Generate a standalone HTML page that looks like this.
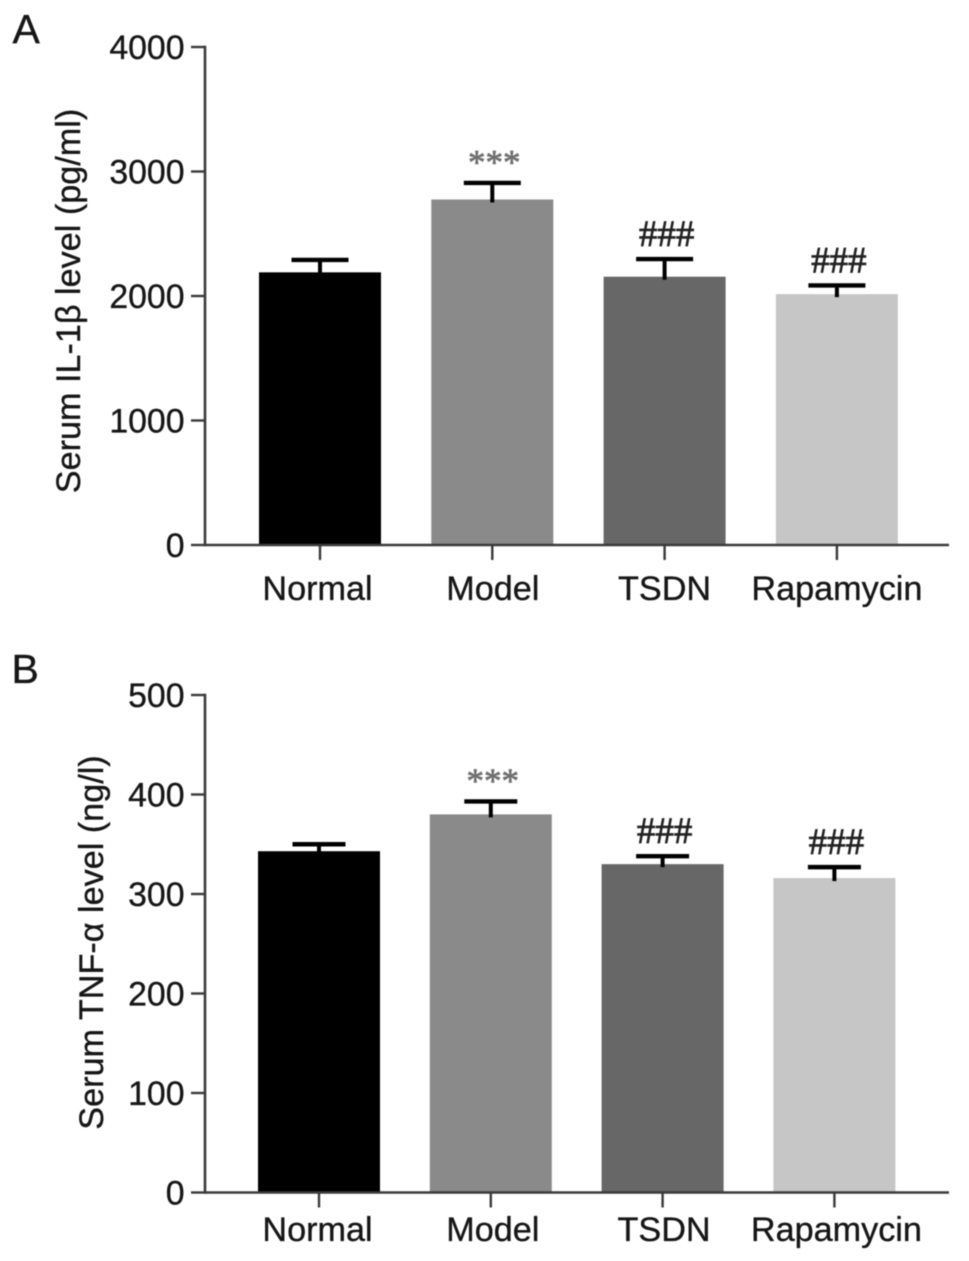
<!DOCTYPE html>
<html lang="en">
<head>
<meta charset="utf-8">
<title>Serum IL-1β and TNF-α levels</title>
<style>
html,body{margin:0;padding:0;background:#fff;width:969px;height:1261px;overflow:hidden}
svg{display:block;filter:blur(0.45px)}
text{font-family:"Liberation Sans",sans-serif;fill:#161616;stroke:#161616;stroke-width:0.35px}
</style>
</head>
<body>
<svg id="figure" xmlns="http://www.w3.org/2000/svg" width="969" height="1261" viewBox="0 0 969 1261"></svg>
<script>
const categories = ['Normal', 'Model', 'TSDN', 'Rapamycin'];
const il1bValues = [2190, 2775, 2155, 2015];
const il1bUpperErrors = [2290, 2908, 2297, 2085];
const il1bTicks = [0, 1000, 2000, 3000, 4000];
const tnfValues = [343, 380, 330, 316];
const tnfUpperErrors = [350, 393, 338, 327];
const tnfTicks = [0, 100, 200, 300, 400, 500];
const significance = ['', '***', '###', '###'];
const barColors = ['#000000', '#8a8a8a', '#676767', '#c6c6c6'];

const NS = 'http://www.w3.org/2000/svg';
const root = document.getElementById('figure');

function make(parent, tag, props, content) {
  const el = document.createElementNS(NS, tag);
  for (const k in props) el.setAttribute(k, props[k]);
  if (content !== undefined) el.textContent = content;
  parent.appendChild(el);
  return el;
}

function drawPanel(cfg) {
  const y = v => cfg.y0 - (v / cfg.yMax) * (cfg.y0 - cfg.yTop);
  const x = i => cfg.firstCenter + i * cfg.step;

  const g = make(root, 'g', {});
  
  

  const letter = make(g, 'text', {x: cfg.letterX, y: cfg.letterY, 'font-size': 41}, cfg.letter);
  
  

  const title = make(g, 'text', {
    x: 0, y: 0, 'font-size': 34.2, 'text-anchor': 'middle',
    transform: 'translate(' + cfg.titleX + ' ' + cfg.titleY + ') rotate(-90)'
  }, cfg.title);
  
  

  cfg.values.forEach((v, i) => {
    const bar = make(g, 'rect', {
      x: x(i) - cfg.barWidth / 2, y: y(v), width: cfg.barWidth, height: cfg.y0 - y(v), fill: barColors[i]
    });
    
    

    const stem = make(g, 'line', {
      x1: x(i), x2: x(i), y1: y(cfg.errors[i]), y2: y(v) + 3, stroke: '#000', 'stroke-width': 4
    });
    
    

    const cap = make(g, 'line', {
      x1: x(i) - cfg.capWidth / 2, x2: x(i) + cfg.capWidth / 2, y1: y(cfg.errors[i]), y2: y(cfg.errors[i]),
      stroke: '#000', 'stroke-width': 4.4
    });
    
    

    if (significance[i]) {
      const star = significance[i] === '***';
      const mark = make(g, 'text', {
        x: x(i) + 2, y: y(cfg.errors[i]) - (star ? 9 : 13), 'text-anchor': 'middle',
        'font-size': star ? 35 : 37
      }, significance[i]);
      mark.setAttribute('style', 'font-family:"Liberation Serif",serif;fill:' + (star ? '#707070' : '#222') + ';stroke:' + (star ? '#707070' : '#222') + ';stroke-width:0.7px');
      
      
    }

    const xTick = make(g, 'line', {
      x1: x(i), x2: x(i), y1: cfg.y0, y2: cfg.y0 + 15, stroke: '#3a3a3a', 'stroke-width': 2.4
    });
    
    

    const xLabel = make(g, 'text', {
      x: x(i) + cfg.labelShift[i], y: cfg.xLabelY, 'font-size': 34.2, 'text-anchor': 'middle'
    }, categories[i]);
    
    
  });

  cfg.ticks.forEach(t => {
    const tick = make(g, 'line', {
      x1: cfg.axisX - 14, x2: cfg.axisX, y1: y(t), y2: y(t), stroke: '#3a3a3a', 'stroke-width': 2.4
    });
    
    

    const label = make(g, 'text', {
      x: cfg.axisX - 20.5, y: y(t) + 12, 'font-size': 33.8, 'text-anchor': 'end'
    }, String(t));
    
    
  });

  const yAxis = make(g, 'line', {
    x1: cfg.axisX, x2: cfg.axisX, y1: cfg.yTop - 1.2, y2: cfg.y0 + 1.2, stroke: '#3a3a3a', 'stroke-width': 2.6
  });
  
  

  const xAxis = make(g, 'line', {
    x1: cfg.axisX, x2: cfg.axisEnd, y1: cfg.y0, y2: cfg.y0, stroke: '#3a3a3a', 'stroke-width': 2.6
  });
  
  
}

drawPanel({
  name: 'panel-a-il1b-chart', letter: 'A', letterX: 12.5, letterY: 43,
  title: 'Serum IL-1β level (pg/ml)', titleX: 80, titleY: 301,
  values: il1bValues, errors: il1bUpperErrors, ticks: il1bTicks, yMax: 4000,
  y0: 545, yTop: 47, axisX: 205, axisEnd: 949,
  firstCenter: 320, step: 172.3, barWidth: 122, capWidth: 57, xLabelY: 600,
  labelShift: [-2.5, 0.5, 0, 0]
});

drawPanel({
  name: 'panel-b-tnf-chart', letter: 'B', letterX: 11.5, letterY: 683,
  title: 'Serum TNF-α level (ng/l)', titleX: 103, titleY: 942.5,
  values: tnfValues, errors: tnfUpperErrors, ticks: tnfTicks, yMax: 500,
  y0: 1192.5, yTop: 695, axisX: 205, axisEnd: 949,
  firstCenter: 319, step: 171.8, barWidth: 122, capWidth: 53, xLabelY: 1241,
  labelShift: [-1.5, 2, 1.5, 2]
});
</script>
</body>
</html>
